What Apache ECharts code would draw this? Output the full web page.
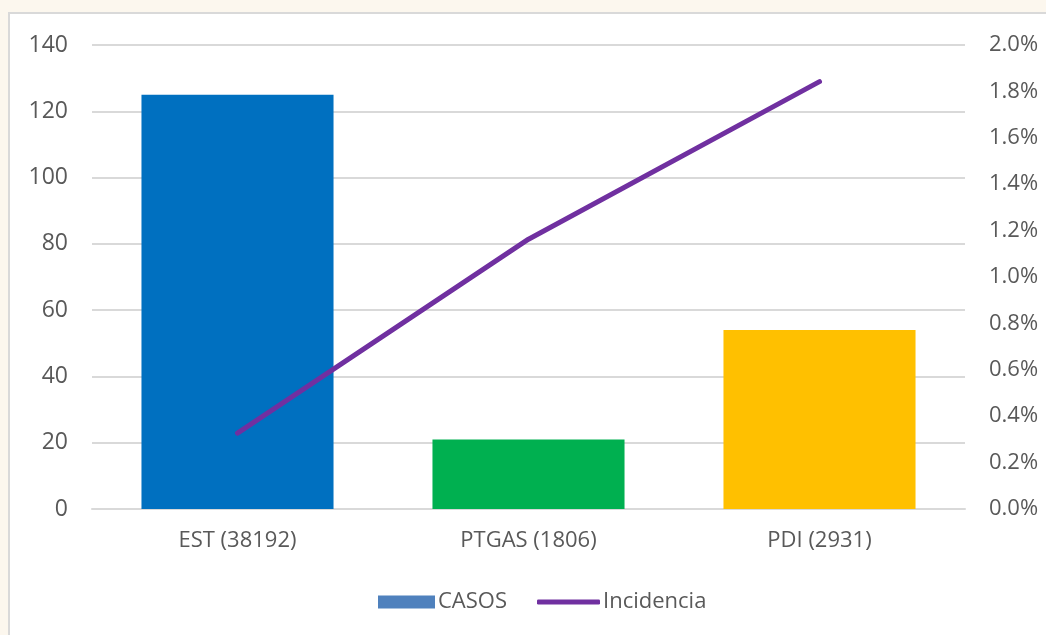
<!DOCTYPE html>
<html>
<head>
<meta charset="utf-8">
<script src="https://cdn.jsdelivr.net/npm/echarts@6/dist/echarts.min.js"></script>
<style>
  html, body { margin: 0; padding: 0; background: #fcf7ee; overflow: hidden; }
  #frame {
    position: absolute; left: 8px; top: 12px; width: 1100px; height: 700px;
    background: #fff; border: 2px solid #d9d9d9;
  }
  #chart { position: absolute; left: 0; top: 0; width: 1046px; height: 635px; }
</style>
</head>
<body>
<div id="frame"></div>
<div id="chart"></div>
<script>
// categorias y datos
const categories = ["EST (38192)", "PTGAS (1806)", "PDI (2931)"];
const casos = [125, 21, 54];
const incidencia = [0.00327, 0.01163, 0.01842];
const barColors = ["#0070C0", "#00B050", "#FFC000"];
const leftTicks = { min: 0, max: 140, interval: 20 };
const rightTicks = { min: 0, max: 0.02, interval: 0.002 };

const txt = "#595959";
const font = "Open Sans";

let chart = echarts.init(document.getElementById("chart"));
chart.setOption({
  animation: false,
  textStyle: { fontFamily: font },
  grid: { left: 92, right: 81, top: 45, bottom: 126 },
  legend: [
    {
      data: ["CASOS"],
      left: 373,
      top: 586,
      icon: "rect",
      itemWidth: 57,
      itemHeight: 13,
      itemGap: 4,
      textStyle: { color: txt, fontSize: 22, fontFamily: font, padding: [0, 0, 0, -2] }
    },
    {
      data: ["Incidencia"],
      left: 532,
      top: 586,
      icon: "roundRect",
      itemWidth: 63,
      itemHeight: 5,
      itemStyle: { borderWidth: 0 },
      textStyle: { color: txt, fontSize: 22, fontFamily: font, padding: [0, 0, 0, -2] }
    }
  ],
  xAxis: {
    type: "category",
    data: categories,
    axisLine: { lineStyle: { color: "#d9d9d9", width: 2 } },
    axisTick: { show: false },
    axisLabel: { color: txt, fontSize: 22, margin: 21 }
  },
  yAxis: [
    {
      type: "value",
      min: leftTicks.min,
      max: leftTicks.max,
      interval: leftTicks.interval,
      axisLine: { show: false },
      axisTick: { show: false },
      axisLabel: { color: txt, fontSize: 23, margin: 24 },
      splitLine: { lineStyle: { color: "#d9d9d9", width: 2 } }
    },
    {
      type: "value",
      min: rightTicks.min,
      max: rightTicks.max,
      interval: rightTicks.interval,
      axisLine: { show: false },
      axisTick: { show: false },
      splitLine: { show: false },
      axisLabel: {
        color: txt,
        fontSize: 22,
        margin: 24,
        formatter: v => (v * 100).toFixed(1) + "%"
      }
    }
  ],
  series: [
    {
      name: "CASOS",
      type: "bar",
      barWidth: "66%",
      itemStyle: { color: "#4F81BD" },
      data: casos.map((v, i) => ({ value: v, itemStyle: { color: barColors[i] } }))
    },
    {
      name: "Incidencia",
      type: "line",
      yAxisIndex: 1,
      symbol: "none",
      showSymbol: false,
      itemStyle: { color: "#7030A0" },
      lineStyle: { color: "#7030A0", width: 5, cap: "round", join: "round" },
      data: incidencia
    }
  ]
});
</script>
</body>
</html>
